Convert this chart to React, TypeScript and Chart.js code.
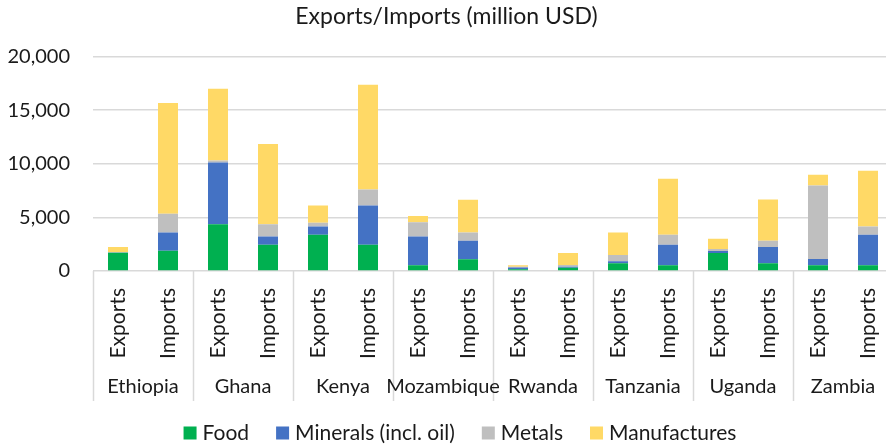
import React, { useEffect, useRef } from "react";
import { Chart, registerables } from "chart.js";

Chart.register(...registerables);

const countries = ["Ethiopia", "Ghana", "Kenya", "Mozambique", "Rwanda", "Tanzania", "Uganda", "Zambia"];
const flows = ["Exports", "Imports"];
const yTicks = [0, 5000, 10000, 15000, 20000];

// Order: for each country, Exports then Imports
const food = [1700, 1900, 4360, 2460, 3390, 2460, 530, 1090, 160, 300, 720, 530, 1680, 720, 530, 530];
const minerals = [30, 1680, 5760, 750, 750, 3640, 2680, 1740, 170, 100, 180, 1930, 190, 1520, 590, 2860];
const metals = [20, 1750, 190, 1150, 370, 1500, 1340, 750, 60, 150, 600, 930, 190, 590, 6850, 750];
const manufactures = [500, 10340, 6700, 7480, 1590, 9780, 590, 3060, 140, 1130, 2080, 5210, 960, 3830, 1000, 5210];

const seriesNames = ["Food", "Minerals (incl. oil)", "Metals", "Manufactures"];
const seriesColors = ["#00B050", "#4472C4", "#BFBFBF", "#FFD966"];

const FONT = "Lato, 'Open Sans', sans-serif";
const TEXT = "#1a1a1a";
const GRID = "#D9D9D9";

export default function App() {
  const ref = useRef<HTMLCanvasElement | null>(null);

  useEffect(() => {
    if (!ref.current) return;
    const labels: string[] = [];
    countries.forEach(() => flows.forEach((f) => labels.push(f)));
    const series = [food, minerals, metals, manufactures];

    const groupPlugin = {
      id: "groupLabels",
      afterDraw(chart: any) {
        const { ctx, chartArea } = chart;
        const n = countries.length;
        const w = (chartArea.right - chartArea.left) / n;
        ctx.save();
        ctx.strokeStyle = GRID;
        ctx.lineWidth = 1.5;
        for (let i = 0; i <= n; i++) {
          const x = Math.round(chartArea.left + i * w) + 0.5;
          ctx.beginPath();
          ctx.moveTo(x, chartArea.bottom);
          ctx.lineTo(x, chartArea.bottom + 130);
          ctx.stroke();
        }
        ctx.fillStyle = TEXT;
        ctx.font = `20px ${FONT}`;
        ctx.textAlign = "center";
        ctx.textBaseline = "middle";
        countries.forEach((c, i) => {
          ctx.fillText(c, chartArea.left + (i + 0.5) * w, chartArea.bottom + 116);
        });

        // legend
        ctx.font = `21px ${FONT}`;
        ctx.textAlign = "left";
        const box = 13;
        const gapText = 6;
        const gapItem = 27;
        const widths = seriesNames.map((s) => box + gapText + ctx.measureText(s).width);
        const total = widths.reduce((a, b) => a + b, 0) + gapItem * (seriesNames.length - 1);
        let x = 460 - total / 2;
        const cy = 433;
        seriesNames.forEach((s, i) => {
          ctx.fillStyle = seriesColors[i];
          ctx.fillRect(x, cy - box / 2, box, box);
          ctx.fillStyle = TEXT;
          ctx.fillText(s, x + box + gapText, cy);
          x += widths[i] + gapItem;
        });
        ctx.restore();
      },
    };

    const chart = new Chart(ref.current, {
      type: "bar",
      data: {
        labels,
        datasets: series.map((d, i) => ({
          label: seriesNames[i],
          data: d,
          backgroundColor: seriesColors[i],
          borderWidth: 0,
          barPercentage: 0.4,
          categoryPercentage: 1,
        })),
      },
      options: {
        animation: false,
        responsive: false,
        layout: { padding: { left: 0, right: 12, bottom: 40, top: 0 } },
        plugins: {
          title: {
            display: true,
            text: "Exports/Imports (million USD)",
            color: TEXT,
            font: { family: FONT, size: 23, weight: "normal" },
            padding: { top: 3, bottom: 26 },
          },
          legend: { display: false },
          tooltip: { enabled: false },
        },
        scales: {
          x: {
            stacked: true,
            grid: { display: false },
            border: { display: false },
            ticks: {
              color: TEXT,
              font: { family: FONT, size: 21 },
              minRotation: 90,
              maxRotation: 90,
              autoSkip: false,
              padding: 9,
            },
            afterFit: (s: any) => {
              s.height = 133;
            },
          },
          y: {
            stacked: true,
            min: 0,
            max: 20000,
            afterBuildTicks: (s: any) => {
              s.ticks = yTicks.map((v) => ({ value: v }));
            },
            grid: { color: GRID, lineWidth: 1.5, drawTicks: false },
            border: { display: false },
            ticks: {
              color: TEXT,
              font: { family: FONT, size: 20 },
              padding: 23,
              callback: (v: any) => Number(v).toLocaleString("en-US"),
            },
            afterFit: (s: any) => {
              s.width = 93;
            },
          },
        },
      },
      plugins: [groupPlugin],
    });
    return () => chart.destroy();
  }, []);

  return (
    <div style={{ position: "fixed", left: 0, top: 0, width: 886, height: 444, overflow: "hidden", background: "#fff" }}>
      <canvas ref={ref} width={905} height={444} style={{ width: 905, height: 444 }} />
    </div>
  );
}
